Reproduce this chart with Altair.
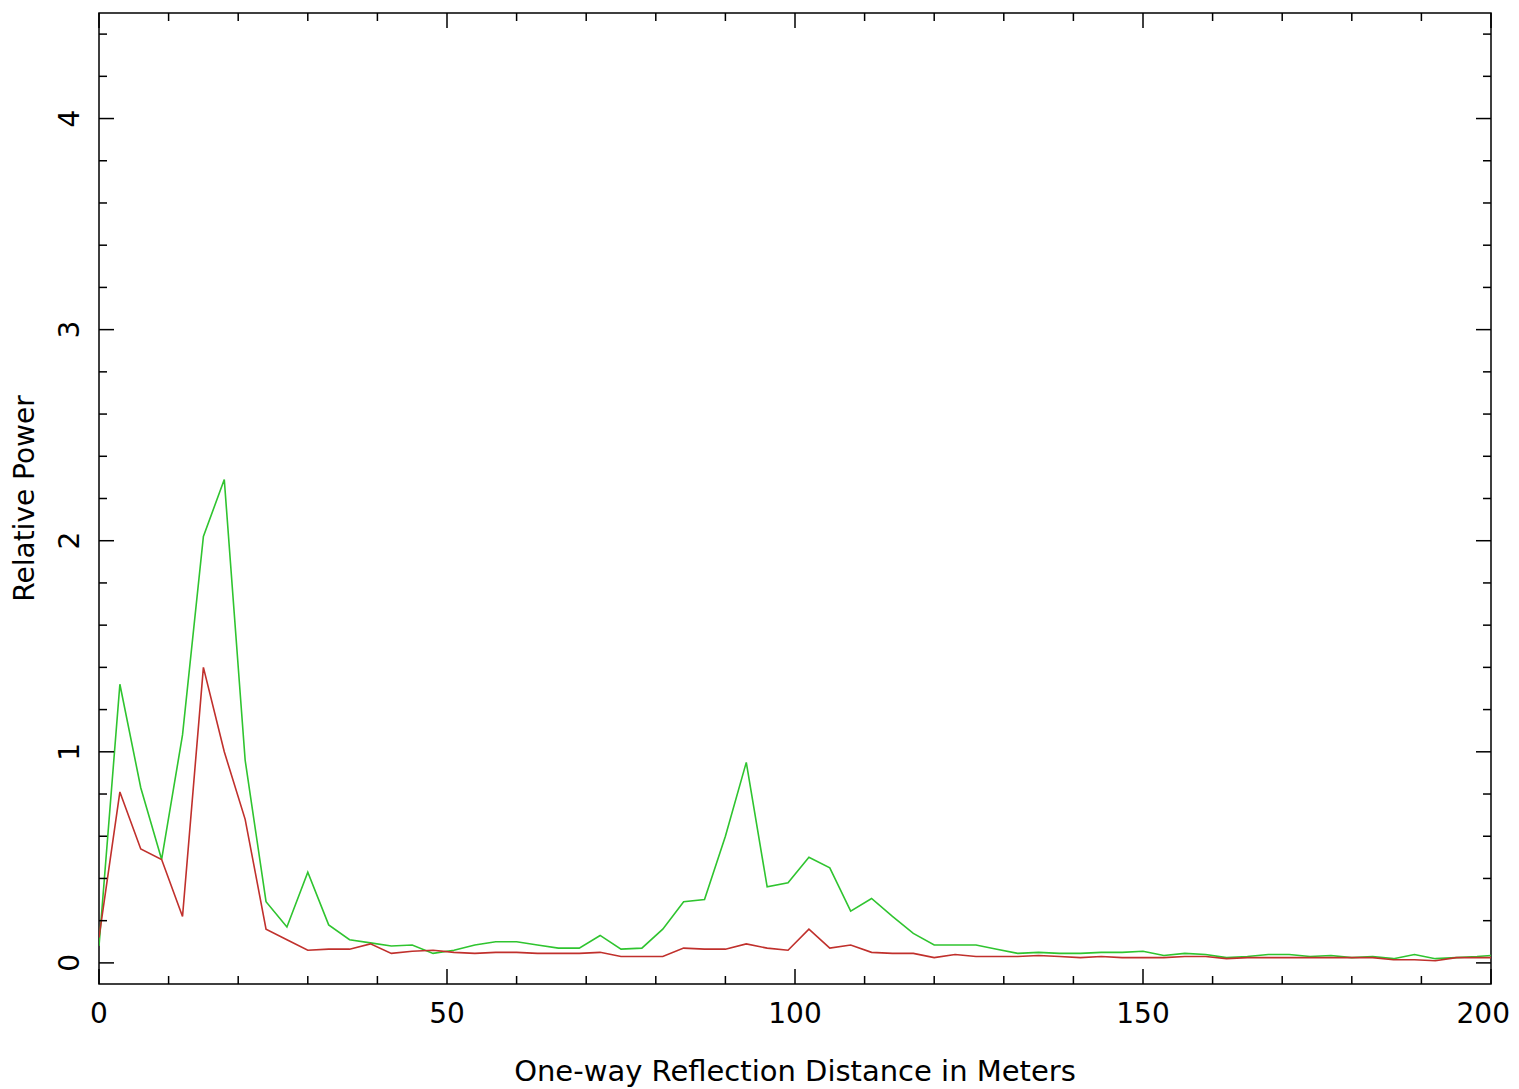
import altair as alt
import pandas as pd

# ---- data ----
distance = [0, 3, 6, 9, 12, 15, 18, 21, 24, 27, 30, 33, 36, 39, 42, 45, 48, 51, 54, 57,
            60, 63, 66, 69, 72, 75, 78, 81, 84, 87, 90, 93, 96, 99, 102, 105, 108, 111,
            114, 117, 120, 123, 126, 129, 132, 135, 138, 141, 144, 147, 150, 153, 156,
            159, 162, 165, 168, 171, 174, 177, 180, 183, 186, 189, 192, 195, 198, 200]

green_power = [0.08, 1.32, 0.83, 0.49, 1.08, 2.02, 2.29, 0.96, 0.29, 0.17, 0.43, 0.18,
               0.11, 0.095, 0.08, 0.085, 0.045, 0.06, 0.085, 0.10, 0.10, 0.085, 0.07,
               0.07, 0.13, 0.065, 0.07, 0.16, 0.29, 0.30, 0.60, 0.95, 0.36, 0.38, 0.50,
               0.45, 0.245, 0.305, 0.22, 0.14, 0.085, 0.085, 0.085, 0.065, 0.045, 0.05,
               0.045, 0.045, 0.05, 0.05, 0.055, 0.035, 0.045, 0.04, 0.025, 0.03, 0.04,
               0.04, 0.03, 0.035, 0.025, 0.03, 0.02, 0.04, 0.02, 0.025, 0.03, 0.035]

red_power = [0.12, 0.81, 0.54, 0.49, 0.22, 1.40, 1.00, 0.68, 0.16, 0.11, 0.06, 0.065,
             0.065, 0.09, 0.045, 0.055, 0.06, 0.05, 0.045, 0.05, 0.05, 0.045, 0.045,
             0.045, 0.05, 0.03, 0.03, 0.03, 0.07, 0.065, 0.065, 0.09, 0.07, 0.06, 0.16,
             0.07, 0.085, 0.05, 0.045, 0.045, 0.025, 0.04, 0.03, 0.03, 0.03, 0.035, 0.03,
             0.025, 0.03, 0.025, 0.025, 0.025, 0.03, 0.03, 0.02, 0.025, 0.025, 0.025,
             0.025, 0.025, 0.025, 0.025, 0.015, 0.015, 0.01, 0.025, 0.025, 0.025]

series_names = ["green", "red"]
series_colors = ["#2fc42f", "#c0302c"]

x_major = [0, 50, 100, 150, 200]
x_minor = [10, 20, 30, 40, 60, 70, 80, 90, 110, 120, 130, 140, 160, 170, 180, 190]
y_major = [0, 1, 2, 3, 4]
y_minor = [0.2, 0.4, 0.6, 0.8, 1.2, 1.4, 1.6, 1.8, 2.2, 2.4, 2.6, 2.8,
           3.2, 3.4, 3.6, 3.8, 4.2, 4.4]
x_labels = ["0", "50", "100", "150", "200"]
y_labels = ["0", "1", "2", "3", "4"]

x_title = "One-way Reflection Distance in Meters"
y_title = "Relative Power"

# ---- layout ----
W, H = 1392, 971
FONT = "DejaVu Sans"
MAJ, MIN = 15, 8
INK = "#000000"

df = pd.DataFrame({
    "d": distance * 2,
    "p": green_power + red_power,
    "s": ["green"] * len(distance) + ["red"] * len(distance),
})

xs = alt.Scale(domain=[0, 200], nice=False, zero=False)
ys = alt.Scale(domain=[-0.1, 4.5], nice=False, zero=False)

lines = alt.Chart(df).mark_line(strokeWidth=1.6, clip=True).encode(
    x=alt.X("d:Q", scale=xs, axis=None),
    y=alt.Y("p:Q", scale=ys, axis=None),
    color=alt.Color("s:N", scale=alt.Scale(domain=series_names, range=series_colors),
                    legend=None),
    detail="s:N",
)


def xticks(vals, length, top):
    d = pd.DataFrame({"v": vals})
    if top:
        yy, yy2 = alt.value(0), alt.value(length)
    else:
        yy, yy2 = alt.value(H), alt.value(H - length)
    return alt.Chart(d).mark_rule(color=INK, strokeWidth=1.5).encode(
        x=alt.X("v:Q", scale=xs, axis=None), y=yy, y2=yy2)


def yticks(vals, length, right):
    d = pd.DataFrame({"v": vals})
    if right:
        xx, xx2 = alt.value(W), alt.value(W - length)
    else:
        xx, xx2 = alt.value(0), alt.value(length)
    return alt.Chart(d).mark_rule(color=INK, strokeWidth=1.5).encode(
        y=alt.Y("v:Q", scale=ys, axis=None), x=xx, x2=xx2)


tick_layers = [
    xticks(x_major, MAJ, False), xticks(x_minor, MIN, False),
    xticks(x_major, MAJ, True), xticks(x_minor, MIN, True),
    yticks(y_major, MAJ, False), yticks(y_minor, MIN, False),
    yticks(y_major, MAJ, True), yticks(y_minor, MIN, True),
]

xlab = alt.Chart(pd.DataFrame({"v": x_major[:-1], "t": x_labels[:-1]})).mark_text(
    font=FONT, fontSize=28, color=INK, align="center", baseline="alphabetic"
).encode(x=alt.X("v:Q", scale=xs, axis=None), y=alt.value(H + 39), text="t:N")

# last label kept inside the page's right edge
xlab_last = alt.Chart(pd.DataFrame({"v": x_major[-1:], "t": x_labels[-1:]})).mark_text(
    font=FONT, fontSize=28, color=INK, align="right", baseline="alphabetic", dx=19
).encode(x=alt.X("v:Q", scale=xs, axis=None), y=alt.value(H + 39), text="t:N")

ylab = alt.Chart(pd.DataFrame({"v": y_major, "t": y_labels})).mark_text(
    font=FONT, fontSize=28, color=INK, align="center", baseline="alphabetic", angle=270
).encode(y=alt.Y("v:Q", scale=ys, axis=None), x=alt.value(-20), text="t:N")

xtit = alt.Chart(pd.DataFrame({"t": [x_title]})).mark_text(
    font=FONT, fontSize=29, color=INK, align="center", baseline="alphabetic"
).encode(x=alt.value(W / 2), y=alt.value(H + 97), text="t:N")

ytit = alt.Chart(pd.DataFrame({"t": [y_title]})).mark_text(
    font=FONT, fontSize=28, color=INK, align="center", baseline="alphabetic", angle=270
).encode(x=alt.value(-65), y=alt.value(H / 2), text="t:N")

chart = alt.layer(lines, *tick_layers, xlab, xlab_last, ylab, xtit, ytit).properties(
    width=W, height=H,
    autosize=alt.AutoSizeParams(type="none"),
    padding={"left": 91, "top": 5, "right": 20, "bottom": 103},
    background="white",
).configure_view(
    stroke=INK, strokeWidth=1.5, fill="white"
)

chart.save("out.html", embed_options={"renderer": "svg", "actions": False})
